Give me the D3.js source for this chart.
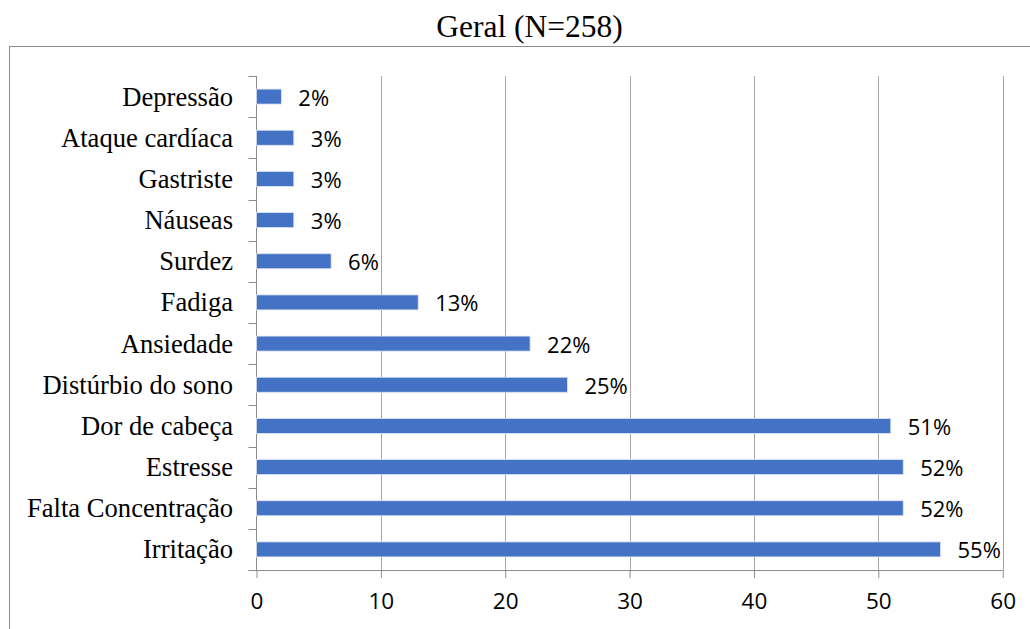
<!DOCTYPE html>
<html>
<head>
<meta charset="utf-8">
<script src="https://cdn.jsdelivr.net/npm/d3@7"></script>
<style>
  html, body { margin: 0; padding: 0; background: #fff; }
  svg { display: block; }
</style>
</head>
<body>
<svg id="chart" width="1030" height="629"></svg>
<script>
const title = "Geral (N=258)";
const categories = ["Depressão", "Ataque cardíaca", "Gastriste", "Náuseas", "Surdez", "Fadiga",
  "Ansiedade", "Distúrbio do sono", "Dor de cabeça", "Estresse", "Falta Concentração", "Irritação"];
const values = [2, 3, 3, 3, 6, 13, 22, 25, 51, 52, 52, 55];
const valueLabels = ["2%", "3%", "3%", "3%", "6%", "13%", "22%", "25%", "51%", "52%", "52%", "55%"];
const xTicks = [0, 10, 20, 30, 40, 50, 60];

const svg = d3.select("#chart");
const W = 1030, H = 629;
const plotLeft = 256.5, plotRight = 1002.7, plotTop = 76, plotBottom = 570;

// outer chart border
svg.append("rect")
  .attr("x", 9.5).attr("y", 46.5)
  .attr("width", W + 10).attr("height", H + 10)
  .attr("fill", "none").attr("stroke", "#8c8c8c").attr("stroke-width", 1);

// title
svg.append("text")
  .attr("x", 529.5).attr("y", 37)
  .attr("text-anchor", "middle")
  .attr("font-family", "'Liberation Serif', 'Times New Roman', serif")
  .attr("font-size", 31.5)
  .attr("fill", "#000")
  .text(title);

const x = d3.scaleLinear().domain([0, 60]).range([plotLeft, plotRight]);
const y = d3.scaleBand().domain(categories).range([plotTop, plotBottom]).paddingInner(0).paddingOuter(0);
const barH = 15;

// gridlines
svg.append("g")
  .selectAll("line")
  .data(xTicks.filter(d => d > 0))
  .join("line")
  .attr("x1", d => Math.round(x(d)) + 0.5).attr("x2", d => Math.round(x(d)) + 0.5)
  .attr("y1", plotTop).attr("y2", plotBottom)
  .attr("stroke", "#a6a6a6").attr("stroke-width", 1);

// x axis
const xAxis = svg.append("g")
  .attr("transform", `translate(0,${plotBottom})`)
  .call(d3.axisBottom(x).tickValues(xTicks).tickSize(8).tickPadding(15).tickFormat(d3.format("d")));
xAxis.select(".domain").attr("d", `M${plotLeft - 8},0.5H${plotRight}`).attr("stroke", "#8c8c8c");
xAxis.selectAll(".tick line").attr("stroke", "#8c8c8c");
xAxis.selectAll(".tick text")
  .attr("font-family", "'Open Sans', sans-serif")
  .attr("font-size", 22.5)
  .attr("fill", "#000")
  .attr("dy", "0.71em");

// y axis
const boundaries = d3.range(categories.length + 1).map(i => plotTop + i * y.step());
const yAxisG = svg.append("g");
yAxisG.append("line")
  .attr("x1", plotLeft).attr("x2", plotLeft).attr("y1", plotTop).attr("y2", plotBottom)
  .attr("stroke", "#8c8c8c");
yAxisG.selectAll("line.tk")
  .data(boundaries)
  .join("line").attr("class", "tk")
  .attr("x1", plotLeft - 8).attr("x2", plotLeft)
  .attr("y1", d => Math.round(d) + 0.5).attr("y2", d => Math.round(d) + 0.5)
  .attr("stroke", "#8c8c8c");

// category labels
svg.append("g")
  .selectAll("text")
  .data(categories)
  .join("text")
  .attr("x", 233)
  .attr("y", d => y(d) + y.bandwidth() / 2 + 9)
  .attr("text-anchor", "end")
  .attr("font-family", "'Liberation Serif', 'Times New Roman', serif")
  .attr("font-size", 26.6)
  .attr("fill", "#000")
  .text(d => d);

// bars
svg.append("g")
  .selectAll("rect")
  .data(values)
  .join("rect")
  .attr("x", x(0))
  .attr("y", (d, i) => y(categories[i]) + y.bandwidth() / 2 - barH / 2)
  .attr("width", d => x(d) - x(0))
  .attr("height", barH)
  .attr("fill", "#4472C4")
  .attr("stroke", "#dbe4f5")
  .attr("stroke-width", 0.8);

// value labels
svg.append("g")
  .selectAll("text")
  .data(values)
  .join("text")
  .attr("x", d => x(d) + 17)
  .attr("y", (d, i) => y(categories[i]) + y.bandwidth() / 2 + 9)
  .attr("font-family", "'Open Sans', sans-serif")
  .attr("font-size", 22)
  .attr("fill", "#000")
  .text((d, i) => valueLabels[i]);
</script>
</body>
</html>
